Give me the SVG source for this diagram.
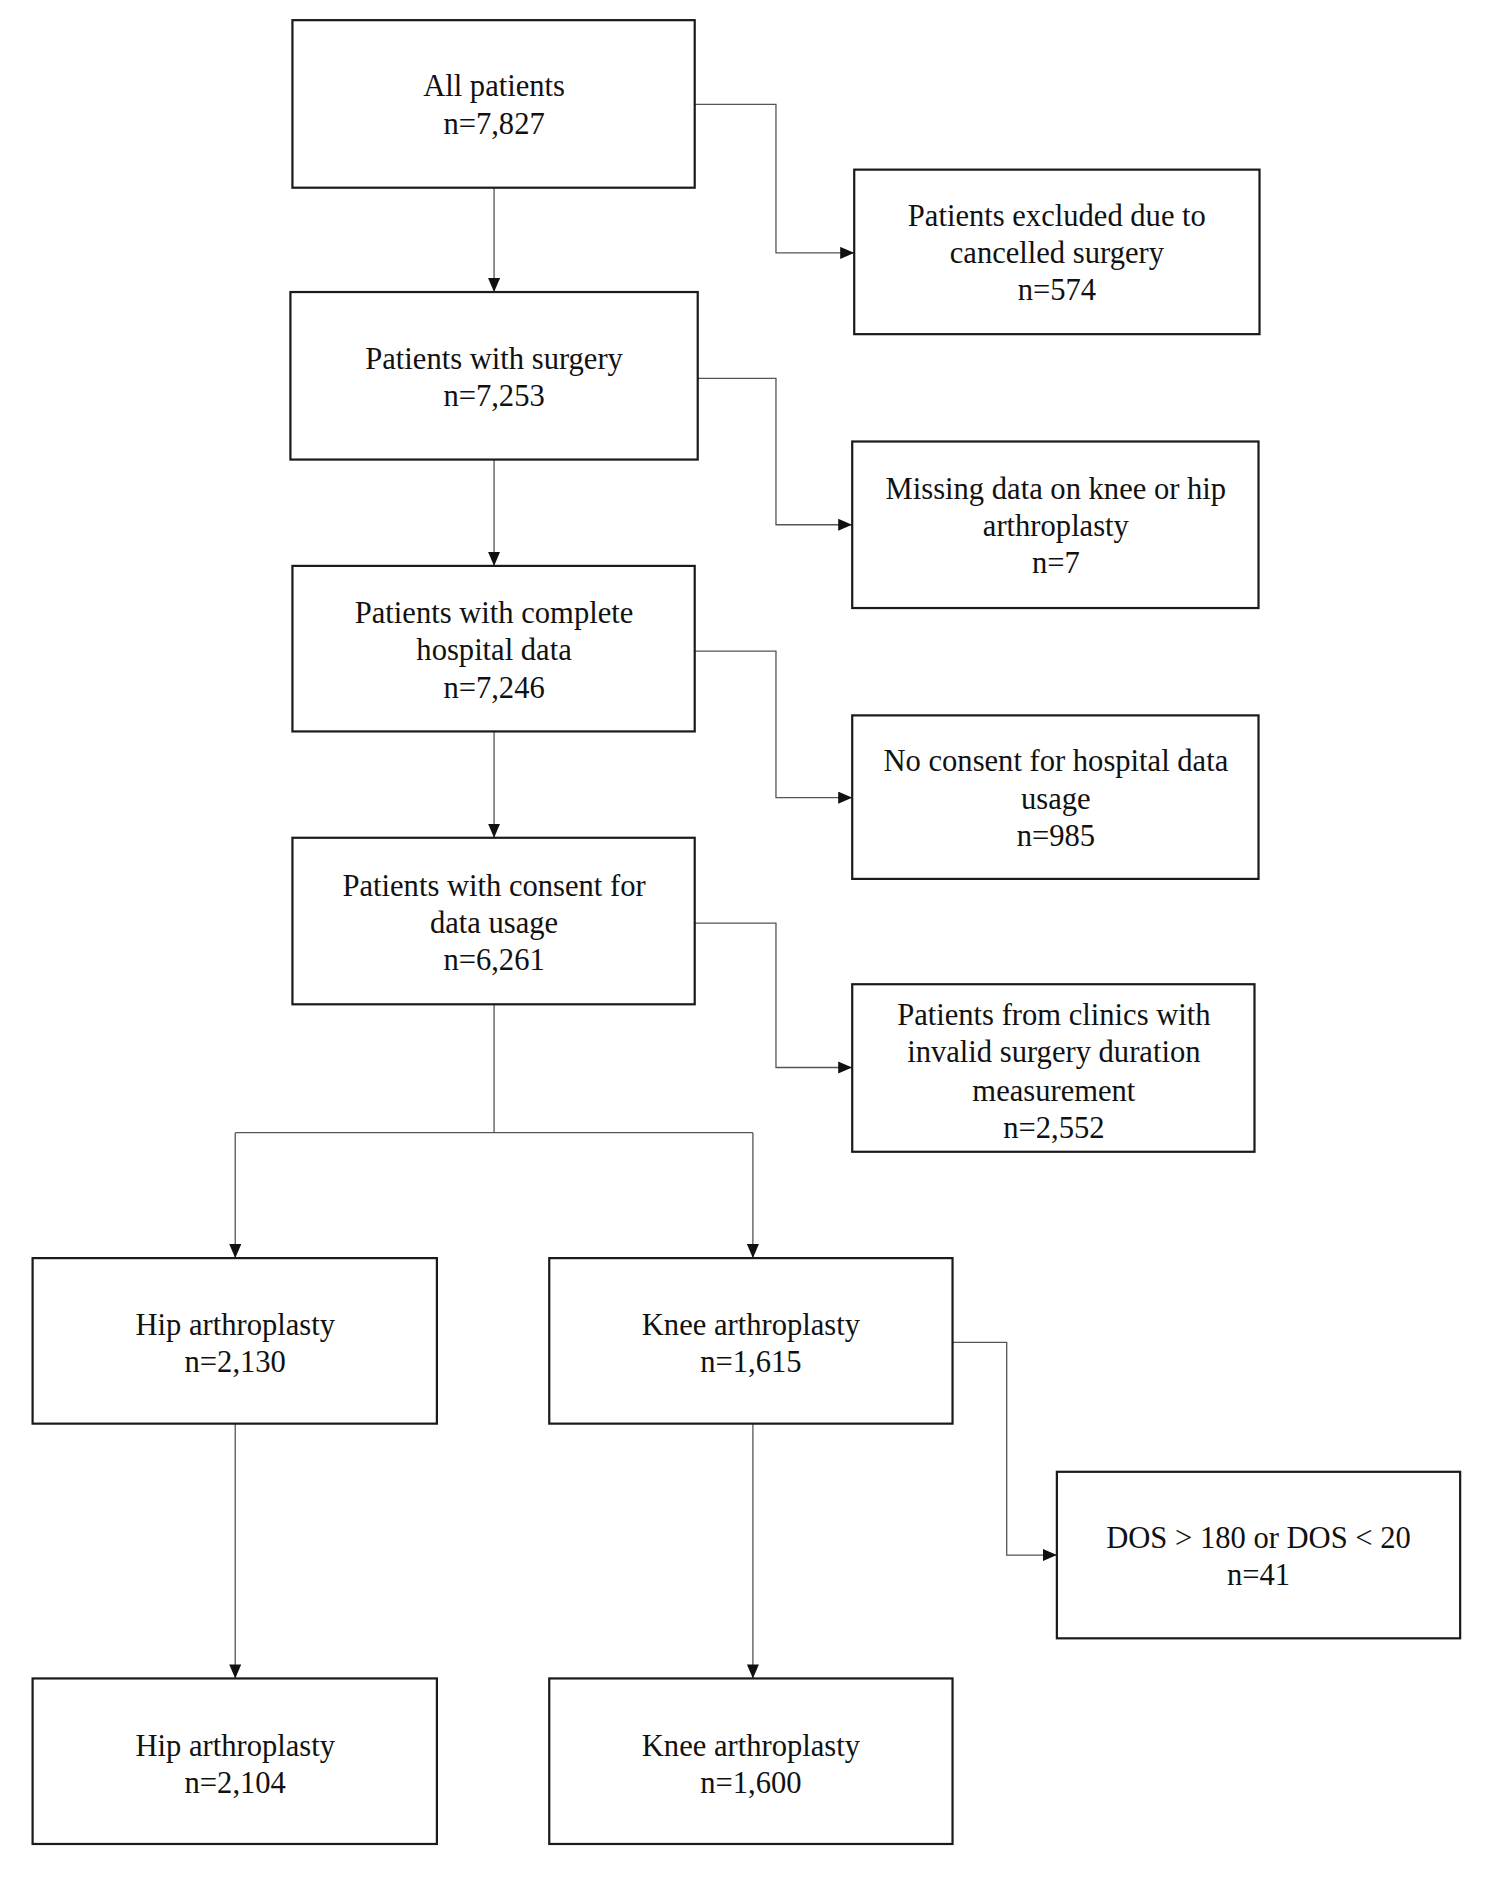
<svg xmlns="http://www.w3.org/2000/svg" width="1488" height="1888" viewBox="0 0 1488 1888">
<style>
.box{fill:#fff;stroke:#1a1a1a;stroke-width:2.2}
.t{font-family:"Liberation Serif","Times New Roman",serif;font-size:30.5px;fill:#111;text-anchor:middle}
.c{fill:none;stroke:#555;stroke-width:1.3}
</style>
<defs>
<marker id="ah" markerUnits="userSpaceOnUse" markerWidth="14" markerHeight="12" refX="14" refY="6" orient="auto">
<path d="M0,0 L14,6 L0,12 z" fill="#111"/>
</marker>
</defs>
<rect width="1488" height="1888" fill="#fff"/>
<g transform="translate(1.5,1.1) scale(1.0032)">
<g id="connectors">
<path class="c" d="M491,186 V290" marker-end="url(#ah)"/>
<path class="c" d="M491,457 V563" marker-end="url(#ah)"/>
<path class="c" d="M491,728 V834" marker-end="url(#ah)"/>
<path class="c" d="M691,103 H772 V251 H850" marker-end="url(#ah)"/>
<path class="c" d="M694,376 H772 V522 H848" marker-end="url(#ah)"/>
<path class="c" d="M691,648 H772 V794 H848" marker-end="url(#ah)"/>
<path class="c" d="M691,919 H772 V1063 H848" marker-end="url(#ah)"/>
<path class="c" d="M491,1000 V1128"/>
<path class="c" d="M233,1128 H749"/>
<path class="c" d="M233,1128 V1253" marker-end="url(#ah)"/>
<path class="c" d="M749,1128 V1253" marker-end="url(#ah)"/>
<path class="c" d="M948,1337 H1002 V1549 H1052" marker-end="url(#ah)"/>
<path class="c" d="M233,1418 V1672" marker-end="url(#ah)"/>
<path class="c" d="M749,1418 V1672" marker-end="url(#ah)"/>
</g>
<g id="all">
<rect class="box" x="290" y="19" width="401" height="167"/>
<text class="t" x="491" y="95">All patients</text>
<text class="t" x="491" y="132">n=7,827</text>
</g>
<g id="surgery">
<rect class="box" x="288" y="290" width="406" height="167"/>
<text class="t" x="491" y="367">Patients with surgery</text>
<text class="t" x="491" y="404">n=7,253</text>
</g>
<g id="complete">
<rect class="box" x="290" y="563" width="401" height="165"/>
<text class="t" x="491" y="620">Patients with complete</text>
<text class="t" x="491" y="657">hospital data</text>
<text class="t" x="491" y="695">n=7,246</text>
</g>
<g id="consent">
<rect class="box" x="290" y="834" width="401" height="166"/>
<text class="t" x="491" y="892">Patients with consent for</text>
<text class="t" x="491" y="929">data usage</text>
<text class="t" x="491" y="966">n=6,261</text>
</g>
<g id="cancelled">
<rect class="box" x="850" y="168" width="404" height="164"/>
<text class="t" x="1052" y="224">Patients excluded due to</text>
<text class="t" x="1052" y="261">cancelled surgery</text>
<text class="t" x="1052" y="298">n=574</text>
</g>
<g id="missing">
<rect class="box" x="848" y="439" width="405" height="166"/>
<text class="t" x="1051" y="496">Missing data on knee or hip</text>
<text class="t" x="1051" y="533">arthroplasty</text>
<text class="t" x="1051" y="570">n=7</text>
</g>
<g id="noconsent">
<rect class="box" x="848" y="712" width="405" height="163"/>
<text class="t" x="1051" y="767">No consent for hospital data</text>
<text class="t" x="1051" y="805">usage</text>
<text class="t" x="1051" y="842">n=985</text>
</g>
<g id="invalid">
<rect class="box" x="848" y="980" width="401" height="167"/>
<text class="t" x="1049" y="1021">Patients from clinics with</text>
<text class="t" x="1049" y="1058">invalid surgery duration</text>
<text class="t" x="1049" y="1096">measurement</text>
<text class="t" x="1049" y="1133">n=2,552</text>
</g>
<g id="hip1">
<rect class="box" x="31" y="1253" width="403" height="165"/>
<text class="t" x="233" y="1330">Hip arthroplasty</text>
<text class="t" x="233" y="1367">n=2,130</text>
</g>
<g id="knee1">
<rect class="box" x="546" y="1253" width="402" height="165"/>
<text class="t" x="747" y="1330">Knee arthroplasty</text>
<text class="t" x="747" y="1367">n=1,615</text>
</g>
<g id="dos">
<rect class="box" x="1052" y="1466" width="402" height="166"/>
<text class="t" x="1253" y="1542">DOS &gt; 180 or DOS &lt; 20</text>
<text class="t" x="1253" y="1579">n=41</text>
</g>
<g id="hip2">
<rect class="box" x="31" y="1672" width="403" height="165"/>
<text class="t" x="233" y="1749">Hip arthroplasty</text>
<text class="t" x="233" y="1786">n=2,104</text>
</g>
<g id="knee2">
<rect class="box" x="546" y="1672" width="402" height="165"/>
<text class="t" x="747" y="1749">Knee arthroplasty</text>
<text class="t" x="747" y="1786">n=1,600</text>
</g>
</g>
</svg>
